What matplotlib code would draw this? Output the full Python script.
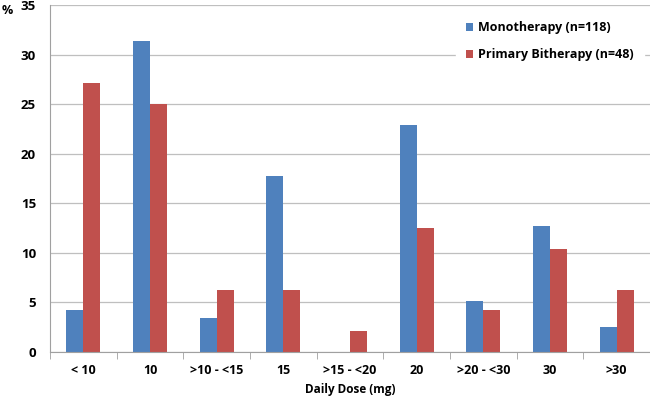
import matplotlib.pyplot as plt
import numpy as np

categories = ["< 10", "10", ">10 - <15", "15", ">15 - <20", "20", ">20 - <30", "30", ">30"]
mono = [4.2, 31.4, 3.4, 17.8, 0, 22.9, 5.1, 12.7, 2.5]
bitherapy = [27.1, 25.0, 6.25, 6.25, 2.1, 12.5, 4.2, 10.4, 6.25]
yticks = [0, 5, 10, 15, 20, 25, 30, 35]

plt.rcParams['font.family'] = ['Open Sans', 'DejaVu Sans']
plt.rcParams['font.weight'] = 'bold'

fig = plt.figure(figsize=(6.5, 4), dpi=100)
ax = fig.add_axes([50 / 650, 48 / 400, 600 / 650, 347 / 400])

x = np.arange(len(categories))
w = 0.255
ax.bar(x - w / 2, mono, w, color="#4F81BD", label="Monotherapy (n=118)")
ax.bar(x + w / 2, bitherapy, w, color="#C0504D", label="Primary Bitherapy (n=48)")

ax.set_xlim(-0.5, len(categories) - 0.5)
ax.set_ylim(0, 35)
ax.set_yticks(yticks)
ax.set_yticklabels([str(t) for t in yticks], fontsize=9.5, fontweight='bold')
ax.set_xticks(x)
ax.set_xticklabels(categories, fontsize=9, fontweight='bold')
ax.tick_params(axis='x', length=0, pad=9)
ax.tick_params(axis='y', length=0, pad=10)
# boundary tick marks
ax.set_xticks(np.arange(-0.5, len(categories)), minor=True)
ax.tick_params(axis='x', which='minor', length=5, color="#A0A0A0")

ax.grid(axis='y', color="#BFBFBF", linewidth=0.9)
ax.set_axisbelow(True)
for s in ['top', 'right']:
    ax.spines[s].set_visible(False)
ax.spines['left'].set_color("#A0A0A0")
ax.spines['bottom'].set_color("#A0A0A0")

ax.set_xlabel("Daily Dose (mg)", fontsize=8.5, fontweight='bold', labelpad=4)
fig.text(2 / 650, 1 - 10 / 400, "%", fontsize=9, fontweight='bold', va='center')

leg = ax.legend(loc='upper right', bbox_to_anchor=(1.0, 1.0), frameon=True,
                fancybox=False, edgecolor='white', framealpha=1,
                fontsize=9, handlelength=0.6, handleheight=0.6,
                handletextpad=0.4, labelspacing=1.1, borderpad=0.8)
for t in leg.get_texts():
    t.set_fontweight('bold')

fig.savefig("out.png", dpi=100)
